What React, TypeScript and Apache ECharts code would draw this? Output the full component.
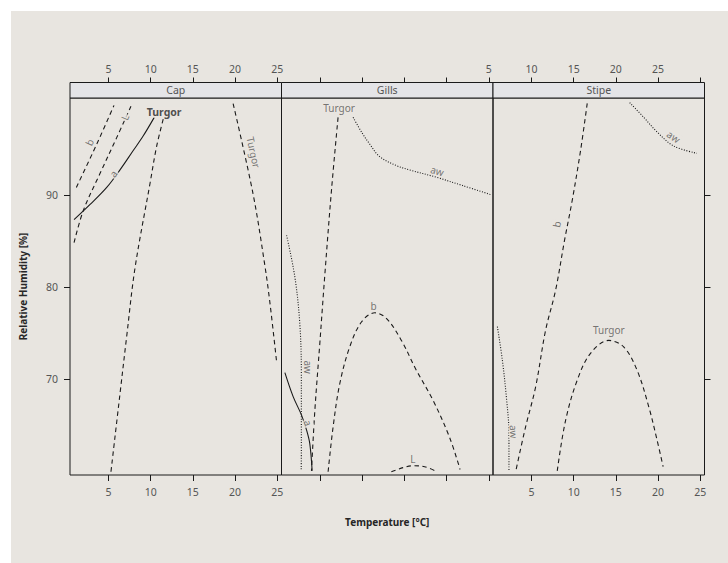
import React, { useEffect, useRef } from "react";
import * as echarts from "echarts";

// ---------- data ----------
const panels = ["Cap", "Gills", "Stipe"];
const xTicks = [5, 10, 15, 20, 25];
const yTicks = [70, 80, 90];
const bottomTickLabels = [
  ["5", "10", "15", "20", "25"],
  ["", "", "", "", ""],
  ["5", "10", "15", "20", "25"],
];
const topTickLabels = [
  ["5", "10", "15", "20", "25"],
  ["", "", "", "", "5"],
  ["10", "15", "20", "25", ""],
];
const xTitle = "Temperature [°C]";
const yTitle = "Relative Humidity [%]";

// Cap contours [temperature, humidity]
const capB = [[1.2, 90.8], [3.62, 95.5], [5.66, 99.7]];
const capL = [[0.93, 84.8], [2.03, 88.3], [4.0, 92.3], [5.98, 96.2], [7.67, 99.6]];
const capA = [[0.93, 87.3], [2.83, 88.95], [4.8, 90.8], [6.37, 92.7], [7.94, 94.8], [9.13, 96.4], [10.43, 98.4]];
const capTurgorLeft = [[11.49, 98.2], [10.7, 95.2], [9.92, 91.2], [8.14, 82.0], [7.16, 74.6], [6.37, 68.4], [5.3, 59.95]];
const capTurgorRight = [[19.77, 99.9], [22.13, 90.1], [23.5, 82.5], [24.1, 78.5], [24.9, 72.05]];

// Gills contours
const gillsTurgor = [[7.15, 98.4], [6.37, 90.5], [5.58, 81.3], [4.99, 73.9], [4.4, 66.6], [4.0, 60.05]];
const gillsAwTop = [[8.93, 98.4], [10.0, 96.7], [10.9, 95.5], [12.08, 94.14], [14.05, 93.17], [15.6, 92.7], [18.8, 91.9], [21.9, 91.0], [25.3, 90.0]];
const gillsAwLeft = [[1.05, 85.6], [2.03, 81.1], [2.62, 76.0], [2.8, 70.6], [2.8, 62.3], [2.78, 60.05]];
const gillsA = [[0.85, 70.7], [1.83, 68.1], [2.82, 66.1], [3.41, 64.5], [3.8, 63.0], [4.08, 60.05]];
const gillsB = [[5.97, 59.95], [6.56, 64.8], [7.35, 69.5], [8.53, 73.5], [9.92, 76.2], [11.5, 77.2], [12.87, 76.6], [14.65, 74.2], [16.4, 71.0], [18.4, 67.7], [20.35, 63.7], [21.6, 60.2]];
const gillsL = [[13.46, 59.95], [14.84, 60.4], [16.0, 60.6], [17.4, 60.5], [18.78, 60.0]];

// Stipe contours
const stipeB = [[11.61, 99.92], [10.82, 94.8], [9.83, 89.38], [8.92, 85.05], [7.86, 79.63], [6.68, 75.3], [5.5, 69.16], [4.31, 64.82], [3.13, 59.95]];
const stipeAwTop = [[16.64, 100.0], [18.3, 98.4], [19.9, 96.8], [21.84, 95.3], [24.6, 94.5]];
const stipeAwLeft = [[0.97, 75.7], [1.56, 72.05], [2.07, 67.7], [2.34, 64.1], [2.34, 59.95]];
const stipeTurgor = [[8.06, 60.05], [9.04, 65.5], [10.43, 69.9], [12.0, 72.8], [14.16, 74.2], [15.93, 73.5], [17.5, 71.0], [18.9, 67.0], [19.88, 63.4], [20.6, 60.5]];

// contour labels [temperature, humidity, text]
const capLabels = [[2.74, 95.7, "b"], [6.96, 98.4, "L"], [5.58, 92.3, "a"], [11.6, 98.95, "Turgor"], [22.2, 94.6, "Turgor"]];
const gillsLabels = [[7.27, 99.4, "Turgor"], [18.9, 92.6, "aw"], [3.6, 71.3, "aw"], [3.6, 65.25, "a"], [11.37, 77.9, "b"], [16.0, 61.3, "L"]];
const stipeLabels = [[7.98, 86.8, "b"], [21.84, 96.3, "aw"], [2.93, 64.3, "aw"], [14.16, 75.3, "Turgor"]];
const capLabelAngles = [65, 67, 53, 0, -78];
const gillsLabelAngles = [0, -16, -90, -71, 0, 0];
const stipeLabelAngles = [79, -35, -86, 0];
const boldLabel = [[false, false, false, true, false], [false, false, false, false, false, false], [false, false, false, false]];

// ---------- styles ----------
const FONT = "Noto Sans";
const BG = "#e8e5e0";
const STRIP = "#e4e4e7";
const INK = "#1a1a1a";
const GREY = "#555555";
const DASH = [4.5, 3.5];
const DOT = [1, 1.6];

const XMIN = 0.45, XMAX = 25.5, YMIN = 59.6, YMAX = 100.5;
const GRID_LEFT = [70, 281.5, 493];
const GRID_W = 211.5;
const GRID_TOP = 98;
const GRID_H = 377;
const STRIP_H = 15.5;

const panelLines = [
  [
    { data: capB, type: DASH },
    { data: capL, type: DASH },
    { data: capA, type: "solid" },
    { data: capTurgorLeft, type: DASH },
    { data: capTurgorRight, type: DASH },
  ],
  [
    { data: gillsTurgor, type: DASH },
    { data: gillsAwTop, type: DOT },
    { data: gillsAwLeft, type: DOT },
    { data: gillsA, type: "solid" },
    { data: gillsB, type: DASH },
    { data: gillsL, type: DASH },
  ],
  [
    { data: stipeB, type: DASH },
    { data: stipeAwTop, type: DOT },
    { data: stipeAwLeft, type: DOT },
    { data: stipeTurgor, type: DASH },
  ],
];
const panelLabels = [capLabels, gillsLabels, stipeLabels];
const panelAngles = [capLabelAngles, gillsLabelAngles, stipeLabelAngles];

function buildOption() {
  const grid = panels.map((_, i) => ({
    left: GRID_LEFT[i],
    top: GRID_TOP,
    width: GRID_W,
    height: GRID_H,
    show: true,
    borderColor: INK,
    borderWidth: 1,
    backgroundColor: "transparent",
  }));

  const tickStyle = { color: INK, width: 1 };
  const labelBase = { fontFamily: FONT, fontSize: 10.5, color: GREY };

  const xBottom = panels.map((_, i) => ({
    type: "value",
    gridIndex: i,
    min: XMIN,
    max: XMAX,
    position: "bottom",
    axisLine: { show: false },
    splitLine: { show: false },
    axisTick: { show: true, customValues: xTicks, length: 6, lineStyle: tickStyle },
    axisLabel: {
      ...labelBase,
      customValues: xTicks,
      margin: 11,
      formatter: (v: number) => bottomTickLabels[i][xTicks.indexOf(v)] ?? "",
    },
  }));
  const xTop = panels.map((_, i) => ({
    type: "value",
    gridIndex: i,
    min: XMIN,
    max: XMAX,
    position: "top",
    offset: STRIP_H,
    axisLine: { show: false },
    splitLine: { show: false },
    axisTick: { show: true, customValues: xTicks, length: 5, lineStyle: tickStyle },
    axisLabel: {
      ...labelBase,
      customValues: xTicks,
      margin: 8,
      formatter: (v: number) => topTickLabels[i][xTicks.indexOf(v)] ?? "",
    },
  }));

  const yAxis = panels.map((_, i) => ({
    type: "value",
    gridIndex: i,
    min: YMIN,
    max: YMAX,
    position: i === 2 ? "right" : "left",
    axisLine: { show: false },
    splitLine: { show: false },
    axisTick: { show: i !== 1, customValues: yTicks, length: 6, lineStyle: tickStyle },
    axisLabel: { ...labelBase, show: i === 0, customValues: yTicks, margin: 12 },
  }));

  const series: any[] = [];
  panelLines.forEach((lines, i) => {
    lines.forEach((ln) => {
      series.push({
        type: "line",
        xAxisIndex: i,
        yAxisIndex: i,
        data: ln.data,
        symbol: "none",
        showSymbol: false,
        smooth: 0.35,
        silent: true,
        z: 2,
        lineStyle: { color: INK, width: 1.1, type: ln.type },
      });
    });
    series.push({
      type: "scatter",
      xAxisIndex: i,
      yAxisIndex: i,
      symbol: "circle",
      symbolSize: 1,
      silent: true,
      z: 5,
      itemStyle: { color: "rgba(0,0,0,0)" },
      label: {
        show: true,
        position: "inside",
        formatter: "{b}",
        fontFamily: FONT,
        fontSize: 10,
        color: GREY,
        backgroundColor: BG,
        padding: [0, 1],
      },
      data: panelLabels[i].map((l: any, k: number) => ({
        value: [l[0], l[1]],
        name: l[2],
        label: {
          rotate: panelAngles[i][k],
          fontWeight: boldLabel[i][k] ? "bold" : "normal",
          color: boldLabel[i][k] ? "#262626" : GREY,
          fontSize: boldLabel[i][k] ? 10.5 : 10,
        },
      })),
    });
  });

  const graphic: any[] = [];
  panels.forEach((name, i) => {
    graphic.push({
      type: "rect",
      shape: { x: GRID_LEFT[i], y: GRID_TOP - STRIP_H, width: GRID_W, height: STRIP_H },
      style: { fill: STRIP, stroke: INK, lineWidth: 1 },
      z: 10,
    });
    graphic.push({
      type: "text",
      x: GRID_LEFT[i] + GRID_W / 2,
      y: GRID_TOP - STRIP_H / 2,
      style: {
        text: name,
        fill: GREY,
        font: `10.5px "${FONT}"`,
        textAlign: "center",
        textVerticalAlign: "middle",
      },
      z: 11,
    });
  });
  graphic.push({
    type: "text",
    x: GRID_LEFT[0] + (GRID_W * 3) / 2,
    y: 522,
    style: {
      text: xTitle,
      fill: "#262626",
      font: `bold 10px "${FONT}"`,
      textAlign: "center",
      textVerticalAlign: "middle",
    },
  });
  graphic.push({
    type: "text",
    x: 23,
    y: GRID_TOP + GRID_H / 2,
    rotation: Math.PI / 2,
    style: {
      text: yTitle,
      fill: "#262626",
      font: `bold 10px "${FONT}"`,
      textAlign: "center",
      textVerticalAlign: "middle",
    },
  });

  return {
    animation: false,
    backgroundColor: "transparent",
    grid,
    xAxis: [...xBottom, ...xTop],
    yAxis,
    series,
    graphic,
  };
}

export default function App() {
  const ref = useRef<HTMLDivElement>(null);
  useEffect(() => {
    if (!ref.current) return;
    const chart = echarts.init(ref.current, undefined, { renderer: "svg" });
    chart.setOption(buildOption() as any);
    return () => chart.dispose();
  }, []);
  return (
    <div style={{ position: "absolute", left: 0, top: 0, width: 728, height: 563, background: "#ffffff", overflow: "hidden" }}>
      <div style={{ position: "absolute", left: 11, top: 11, right: 0, bottom: 0, background: BG }} />
      <div ref={ref} style={{ position: "absolute", left: 0, top: 0, width: 728, height: 563 }} />
    </div>
  );
}
